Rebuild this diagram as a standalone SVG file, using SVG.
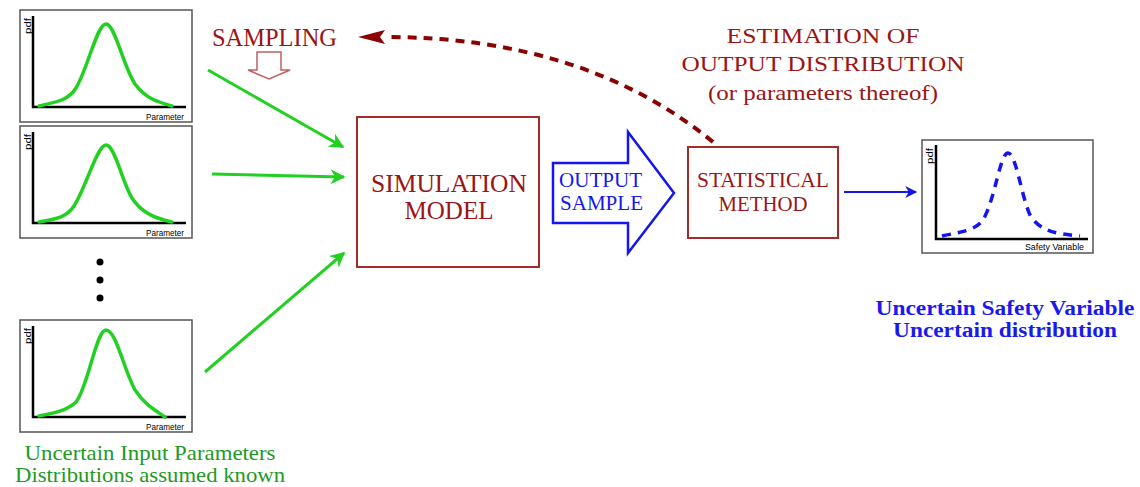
<svg xmlns="http://www.w3.org/2000/svg" xmlns:xlink="http://www.w3.org/1999/xlink" width="1140" height="487" viewBox="0 0 1140 487">
<style>
.frame{fill:#fff;stroke:#555;stroke-width:1.5}
.axis{fill:none;stroke:#000;stroke-width:2.5}
.gcurve{fill:none;stroke:#22d022;stroke-width:3.5;stroke-linecap:round}
.bcurve{fill:none;stroke:#1515ee;stroke-width:3.5;stroke-dasharray:9 7}
.small{font-family:"Liberation Sans Narrow","Liberation Sans",sans-serif;font-size:8.5px;fill:#000}
.serif{font-family:"Liberation Serif","Times New Roman",serif}
.red{fill:#9a1515}
.box{fill:#fff;stroke:#a52a2a;stroke-width:2}
.garrow{stroke:#22d022;stroke-width:3;fill:none}
</style>
<defs>
<marker id="gh" viewBox="0 0 10 10" refX="9" refY="5" markerWidth="6" markerHeight="5" markerUnits="strokeWidth" orient="auto">
<path d="M0,0 L10,5 L0,10 L3,5 Z" fill="#22d022"/>
</marker>
<marker id="bh" viewBox="0 0 10 10" refX="9" refY="5" markerWidth="9" markerHeight="6" markerUnits="strokeWidth" orient="auto">
<path d="M0,0 L10,5 L0,10 L3,5 Z" fill="#1515ee"/>
</marker>
<g id="plot">
<rect class="frame" x="0" y="0" width="172" height="112"/>
<path class="axis" d="M13,6 V97 H166"/>
<text class="small" transform="translate(11,24) rotate(-90)" textLength="16" lengthAdjust="spacingAndGlyphs">pdf</text>
<text class="small" x="164" y="110" text-anchor="end" textLength="38" lengthAdjust="spacingAndGlyphs">Parameter</text>
</g>
</defs>

<g id="input1">
<use xlink:href="#plot" x="20" y="10"/>
<path class="gcurve" d="M39,106 C55,102 68,101 76,88 C88,68 97,24 106,24 C115,24 123,66 135,84 C146,99 158,102 172,106"/>
</g>
<g id="input2">
<use xlink:href="#plot" x="20" y="126"/>
<path class="gcurve" d="M39,222 C55,219 66,218 74,206 C86,188 97,145 106,145 C115,145 122,182 132,198 C142,214 158,219 172,222"/>
</g>
<g id="dots">
<circle cx="100" cy="262" r="3.5" fill="#000"/>
<circle cx="100" cy="280" r="3.5" fill="#000"/>
<circle cx="100" cy="298" r="3.5" fill="#000"/>
</g>
<g id="input3">
<use xlink:href="#plot" x="20" y="320"/>
<path class="gcurve" d="M39,416 C55,413 68,410 76,402 C88,388 96,330 106,330 C116,330 124,370 135,390 C145,405 155,410 165,417"/>
</g>
<g id="input-label" class="serif" fill="#1e9a1e" font-size="21">
<text x="150" y="460" text-anchor="middle" textLength="251" lengthAdjust="spacingAndGlyphs">Uncertain Input Parameters</text>
<text x="150" y="482" text-anchor="middle" textLength="270" lengthAdjust="spacingAndGlyphs">Distributions assumed known</text>
</g>

<g id="sampling">
<text class="serif red" x="212" y="46" font-size="25" textLength="125" lengthAdjust="spacingAndGlyphs">SAMPLING</text>
<path d="M257,52 H281 V70 H290 L269,79 L248,70 H257 Z" fill="#fff" stroke="#c06060" stroke-width="1.5"/>
</g>

<g id="simulation-model">
<rect class="box" x="357" y="117" width="182" height="150"/>
<text class="serif red" x="449" y="192" font-size="26" text-anchor="middle" textLength="156" lengthAdjust="spacingAndGlyphs">SIMULATION</text>
<text class="serif red" x="449" y="219" font-size="26" text-anchor="middle" textLength="89" lengthAdjust="spacingAndGlyphs">MODEL</text>
</g>

<g id="output-sample">
<path d="M553,163 H628 V132 L674,193 L628,253 V223 H553 Z" fill="#fff" stroke="#1515ee" stroke-width="2.5" stroke-linejoin="miter"/>
<text class="serif" fill="#1515ee" x="559" y="187" font-size="21" textLength="83" lengthAdjust="spacingAndGlyphs">OUTPUT</text>
<text class="serif" fill="#1515ee" x="560" y="210" font-size="21" textLength="83" lengthAdjust="spacingAndGlyphs">SAMPLE</text>
</g>

<g id="statistical-method">
<rect class="box" x="688" y="147" width="150" height="91"/>
<text class="serif red" x="763" y="187" font-size="21" text-anchor="middle" textLength="132" lengthAdjust="spacingAndGlyphs">STATISTICAL</text>
<text class="serif red" x="763" y="211" font-size="21" text-anchor="middle" textLength="89" lengthAdjust="spacingAndGlyphs">METHOD</text>
</g>

<g id="estimation-label" class="serif red">
<text x="823" y="43" font-size="22" text-anchor="middle" textLength="193" lengthAdjust="spacingAndGlyphs">ESTIMATION OF</text>
<text x="823" y="71" font-size="22" text-anchor="middle" textLength="283" lengthAdjust="spacingAndGlyphs">OUTPUT DISTRIBUTION</text>
<text x="823" y="100" font-size="22" text-anchor="middle" textLength="230" lengthAdjust="spacingAndGlyphs">(or parameters thereof)</text>
</g>

<g id="output-plot">
<rect class="frame" x="922" y="140" width="171" height="113"/>
<path class="axis" d="M936,145 V239 H1088"/>
<text class="small" transform="translate(933,164) rotate(-90)" textLength="16" lengthAdjust="spacingAndGlyphs">pdf</text>
<text class="small" x="1084" y="250" text-anchor="end" textLength="59" lengthAdjust="spacingAndGlyphs">Safety Variable</text>
<path class="bcurve" d="M942,236 C960,232 975,231 983,220 C995,200 1000,153 1008,153 C1016,153 1021,195 1030,215 C1040,232 1058,234 1080,236"/>
</g>
<g id="output-label" class="serif" fill="#1a1aee" font-weight="bold" font-size="20">
<text x="1005" y="315" text-anchor="middle" textLength="259" lengthAdjust="spacingAndGlyphs">Uncertain Safety Variable</text>
<text x="1005" y="337" text-anchor="middle" textLength="224" lengthAdjust="spacingAndGlyphs">Uncertain distribution</text>
</g>

<g id="connectors">
<line class="garrow" x1="208" y1="70" x2="343" y2="147" marker-end="url(#gh)"/>
<line class="garrow" x1="212" y1="174" x2="344" y2="177" marker-end="url(#gh)"/>
<line class="garrow" x1="205" y1="372" x2="344" y2="253" marker-end="url(#gh)"/>
<line x1="844" y1="192" x2="916" y2="192" stroke="#1515ee" stroke-width="2" marker-end="url(#bh)"/>
<path d="M713,142 Q585,37 385,37" fill="none" stroke="#8b0000" stroke-width="4" stroke-dasharray="9 7"/>
<path d="M358,37 L385,30 L380,37 L385,44 Z" fill="#8b0000"/>
</g>
</svg>
